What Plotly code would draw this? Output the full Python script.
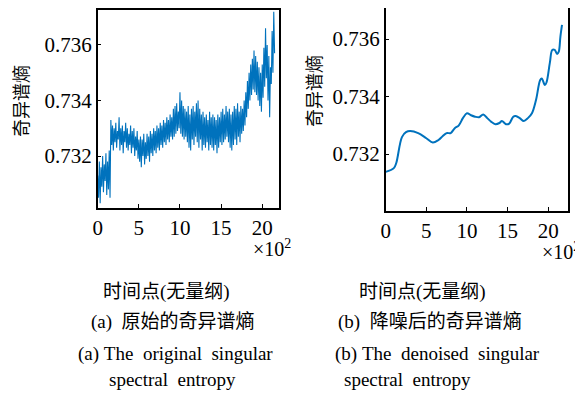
import numpy as np
import plotly.graph_objects as go

# Original (noisy) singular spectral entropy, sampled every 0.1 (x10^2 time points)
raw_entropy = [
    0.7313, 0.7305, 0.7318, 0.7303, 0.7316, 0.7309, 0.7320, 0.7307, 0.7317, 0.7311, 0.7321, 0.7306, 0.7318, 0.7308, 0.7322, 0.7305,
    0.7333, 0.7324, 0.7331, 0.7322, 0.7330, 0.7325, 0.7332, 0.7323, 0.7329, 0.7326, 0.7334, 0.7322, 0.7330, 0.7324, 0.7331, 0.7321,
    0.7329, 0.7325, 0.7332, 0.7323, 0.7330, 0.7322, 0.7328, 0.7324, 0.7331, 0.7321, 0.7329, 0.7323, 0.7330, 0.7320, 0.7327, 0.7322,
    0.7329, 0.7319, 0.7326,
    0.7318, 0.7327, 0.7316, 0.7326, 0.7320, 0.7328, 0.7317, 0.7325, 0.7319, 0.7328, 0.7320, 0.7327, 0.7318, 0.7329, 0.7321,
    0.7328, 0.7320, 0.7330, 0.7322, 0.7329, 0.7321, 0.7331, 0.7323, 0.7330, 0.7322, 0.7332, 0.7324, 0.7331, 0.7323, 0.7333, 0.7325,
    0.7332, 0.7324, 0.7334, 0.7326, 0.7333, 0.7325, 0.7335, 0.7327, 0.7334,
    0.7326, 0.7337, 0.7327, 0.7338, 0.7328, 0.7339, 0.7329, 0.7336, 0.7330, 0.7343, 0.7328, 0.7340, 0.7327, 0.7338, 0.7326,
    0.7337, 0.7327, 0.7336, 0.7325, 0.7338, 0.7323, 0.7335, 0.7322, 0.7337, 0.7326, 0.7338, 0.7324, 0.7336, 0.7327, 0.7339, 0.7325,
    0.7340, 0.7323, 0.7337, 0.7326, 0.7335, 0.7322, 0.7336, 0.7324, 0.7334, 0.7323, 0.7335, 0.7325, 0.7333, 0.7322, 0.7336, 0.7324,
    0.7334, 0.7323, 0.7335,
    0.7322, 0.7334, 0.7324, 0.7333, 0.7321, 0.7335, 0.7323, 0.7334, 0.7325, 0.7336, 0.7324, 0.7337, 0.7325, 0.7335, 0.7326, 0.7338,
    0.7327, 0.7336, 0.7325, 0.7337, 0.7323, 0.7335, 0.7322, 0.7336, 0.7324, 0.7338, 0.7326, 0.7337, 0.7324, 0.7339, 0.7327, 0.7336,
    0.7325, 0.7338, 0.7328,
    0.7337, 0.7329, 0.7340, 0.7331, 0.7343, 0.7334, 0.7347, 0.7337, 0.7350, 0.7340, 0.7353, 0.7342, 0.7355, 0.7344, 0.7358, 0.7343,
    0.7356,
    0.7342, 0.7354, 0.7340, 0.7352, 0.7338, 0.7350, 0.7336, 0.7353, 0.7341, 0.7359, 0.7345, 0.7366, 0.7348,
    0.7360, 0.7340, 0.7356, 0.7334, 0.7352, 0.7346, 0.7365, 0.7350, 0.7372, 0.7357,
]
raw_step = 0.1
raw_x = np.arange(len(raw_entropy)) * raw_step

# Denoised singular spectral entropy
den_x = [0, 1.0, 1.3, 2.0, 2.5, 3.0, 4.0, 5.0, 5.8, 6.5, 7.0, 7.5, 8.0, 8.5, 9.0, 9.5, 10.0, 10.5, 11.0,
         11.5, 12.0, 12.5, 13.0, 13.5, 14.0, 14.3, 14.8, 15.2, 15.7, 16.0, 16.5, 17.0, 17.5, 18.0, 18.5,
         19.0, 19.2, 19.6, 19.8, 20.2, 20.5, 20.8, 21.1, 21.3, 21.5, 21.7]
den_entropy = [0.73138, 0.73151, 0.73169, 0.73259, 0.73276, 0.73280, 0.73273, 0.73255, 0.73240, 0.73249,
               0.73262, 0.73273, 0.73273, 0.73290, 0.73300, 0.73325, 0.73342, 0.73335, 0.73330, 0.73328,
               0.73338, 0.73325, 0.73312, 0.73304, 0.73308, 0.73315, 0.73304, 0.73306, 0.73330, 0.73332,
               0.73325, 0.73315, 0.73325, 0.73342, 0.73388, 0.73457, 0.73463, 0.73440, 0.73450, 0.73517,
               0.73562, 0.73562, 0.73548, 0.73556, 0.73608, 0.73649]

y_ticks = [0.732, 0.734, 0.736]
x_ticks = [0, 5, 10, 15, 20]

# The page body keeps its default 8px margin, so the figure is placed 8px in
OFF = 8
W, H = 583 - OFF, 399 - OFF
LINE = "#0072BD"
SERIF = "Liberation Serif, Noto Sans CJK SC"
CJK = "Noto Sans CJK SC"

fig = go.Figure()
fig.add_trace(go.Scatter(x=raw_x, y=raw_entropy, mode="lines",
                         line=dict(color=LINE, width=1.1), xaxis="x", yaxis="y", showlegend=False))
fig.add_trace(go.Scatter(x=den_x, y=den_entropy, mode="lines", line_shape="spline",
                         line=dict(color=LINE, width=2), xaxis="x2", yaxis="y2", showlegend=False))

def px(xp):
    return (xp - OFF) / W

def py(yp):
    return 1 - (yp - OFF) / H

axis_common = dict(showgrid=False, zeroline=False, showline=True, linecolor="black", linewidth=1.5,
                   mirror=True, ticks="inside", ticklen=4, tickwidth=1, tickcolor="black",
                   automargin=False,
                   tickfont=dict(family=SERIF, size=21, color="black"))

fig.update_layout(
    width=W, height=H,
    margin=dict(l=0, r=0, t=0, b=0, autoexpand=False),
    paper_bgcolor="white", plot_bgcolor="white",
    xaxis=dict(domain=[px(97.7), px(278.7)], range=[0, 22.0], tickvals=x_ticks, anchor="y", **axis_common),
    yaxis=dict(domain=[py(208), py(10)], range=[0.73013, 0.73726], tickvals=y_ticks,
               tickformat=".3f", anchor="x", **axis_common),
    xaxis2=dict(domain=[px(385.7), px(567.7)], range=[0, 22.4], tickvals=x_ticks, anchor="y2", **axis_common),
    yaxis2=dict(domain=[py(210.7), py(8.3)], range=[0.73003, 0.73707], tickvals=y_ticks,
                tickformat=".3f", anchor="x2", **axis_common),
)

def note(text, x, y, size=19, family=SERIF, angle=0, xanchor="center"):
    fig.add_annotation(text=text, x=px(x), y=py(y), xref="paper", yref="paper",
                       showarrow=False, xanchor=xanchor, yanchor="middle", textangle=angle,
                       font=dict(family=family, size=size, color="black"))

note("奇异谱熵", 20, 101, size=18, family=CJK, angle=-90)
note("奇异谱熵", 313, 91, size=18, family=CJK, angle=-90)
note("×10<sup>2</sup>", 272, 248, size=20)
note("×10<sup>2</sup>", 561, 251, size=20)
note("时间点(无量纲)", 166, 292, size=19)
note("时间点(无量纲)", 422, 292, size=19)
note("(a)  原始的奇异谱熵", 173, 322, size=19)
note("(b)  降噪后的奇异谱熵", 430, 322, size=19)
note("(a)\u00a0The\u00a0\u00a0original\u00a0\u00a0singular", 175, 354, size=19)
note("spectral\u00a0\u00a0entropy", 172, 379, size=19)
note("(b)\u00a0The\u00a0\u00a0denoised\u00a0\u00a0singular", 333, 354, size=19, xanchor="left")
note("spectral\u00a0\u00a0entropy", 407, 379, size=19)

fig.write_html("out.html")
